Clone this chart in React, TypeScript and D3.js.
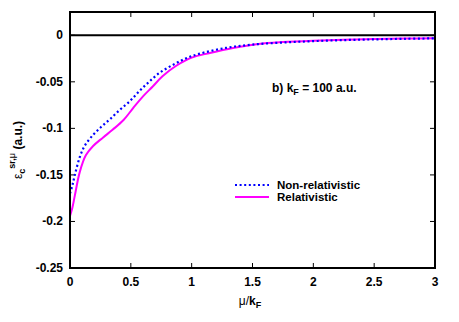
import React from 'react';
import * as d3 from 'd3';

// mu / k_F grid and correlation energies
const xNonRel = [0, 0.02, 0.04, 0.08, 0.12, 0.19, 0.26, 0.33, 0.41, 0.49, 0.57, 0.65, 0.74, 0.85, 0.95, 1.06, 1.28, 1.5, 1.75, 2.0, 2.25, 2.5, 2.75, 3.0];
const yNonRel = [-0.170, -0.161, -0.150, -0.131, -0.119, -0.107, -0.098, -0.090, -0.080, -0.071, -0.060, -0.050, -0.040, -0.0315, -0.025, -0.020, -0.0136, -0.010, -0.0078, -0.0063, -0.0052, -0.0044, -0.0038, -0.0033];

const xRel = [0, 0.02, 0.04, 0.08, 0.13, 0.19, 0.27, 0.35, 0.44, 0.52, 0.60, 0.68, 0.76, 0.87, 1.0, 1.15, 1.34, 1.55, 1.75, 2.0, 2.25, 2.5, 2.75, 3.0];
const yRel = [-0.194, -0.185, -0.172, -0.147, -0.129, -0.119, -0.110, -0.1015, -0.091, -0.078, -0.0656, -0.055, -0.044, -0.033, -0.024, -0.019, -0.0136, -0.0093, -0.0073, -0.0058, -0.0048, -0.0041, -0.0036, -0.0031];

const xTicks = [0, 0.5, 1, 1.5, 2, 2.5, 3];
const xTickLabels = ['0', '0.5', '1', '1.5', '2', '2.5', '3'];
const yTicks = [0, -0.05, -0.1, -0.15, -0.2, -0.25];
const yTickLabels = ['0', '-0.05', '-0.1', '-0.15', '-0.2', '-0.25'];

const seriesNames = ['Non-relativistic', 'Relativistic'];
const seriesColors = ['#0000ff', '#ff00ff'];

const W = 459;
const H = 322;
const margin = { left: 70, right: 24, top: 12, bottom: 54 };

const App: React.FC = () => {
  const x = d3.scaleLinear().domain([0, 3]).range([margin.left, W - margin.right]);
  const y = d3.scaleLinear().domain([-0.25, 0.025]).range([H - margin.bottom, margin.top]);

  const line = d3.line<[number, number]>()
    .x(d => x(d[0]))
    .y(d => y(d[1]))
    .curve(d3.curveCatmullRom.alpha(0.5));

  const nonRel = line(xNonRel.map((v, i) => [v, yNonRel[i]] as [number, number])) || '';
  const rel = line(xRel.map((v, i) => [v, yRel[i]] as [number, number])) || '';

  const font = '"Liberation Sans", Arial, sans-serif';
  const tickLen = 5;

  return (
    <svg width={W} height={H} style={{ position: 'absolute', left: 0, top: 0, background: '#fff' }}
      fontFamily={font} fontWeight="bold" fontSize={12}>
      <defs>
        <clipPath id="plot">
          <rect x={x(0)} y={y(0.025)} width={x(3) - x(0)} height={y(-0.25) - y(0.025)} />
        </clipPath>
      </defs>

      {/* zero line */}
      <line x1={x(0)} x2={x(3)} y1={y(0)} y2={y(0)} stroke="#000" strokeWidth={2} />

      {/* ticks, mirrored on all sides */}
      {xTicks.map(t => (
        <g key={'xt' + t}>
          <line x1={x(t)} x2={x(t)} y1={y(-0.25)} y2={y(-0.25) - tickLen} stroke="#000" strokeWidth={1} />
          <line x1={x(t)} x2={x(t)} y1={y(0.025)} y2={y(0.025) + tickLen} stroke="#000" strokeWidth={1} />
        </g>
      ))}
      {yTicks.map(t => (
        <g key={'yt' + t}>
          <line x1={x(0)} x2={x(0) + tickLen} y1={y(t)} y2={y(t)} stroke="#000" strokeWidth={1} />
          <line x1={x(3)} x2={x(3) - tickLen} y1={y(t)} y2={y(t)} stroke="#000" strokeWidth={1} />
        </g>
      ))}

      {/* curves */}
      <g clipPath="url(#plot)">
        <path d={rel} fill="none" stroke={seriesColors[1]} strokeWidth={2} />
        <path d={nonRel} fill="none" stroke={seriesColors[0]} strokeWidth={2.2} strokeDasharray="2,2.6" />
      </g>

      {/* frame */}
      <rect x={x(0)} y={y(0.025)} width={x(3) - x(0)} height={y(-0.25) - y(0.025)} fill="none" stroke="#000" strokeWidth={2} />

      {/* tick labels */}
      {xTicks.map((t, i) => (
        <text key={'xl' + t} x={x(t)} y={286} textAnchor="middle">{xTickLabels[i]}</text>
      ))}
      {yTicks.map((t, i) => (
        <text key={'yl' + t} x={63} y={y(t) + 4} textAnchor="end">{yTickLabels[i]}</text>
      ))}

      {/* axis titles */}
      <text x={250} y={305} textAnchor="middle" fontWeight="normal" fontSize={12}>
        μ/<tspan fontWeight="bold">k</tspan><tspan fontWeight="bold" fontSize={9} dy={3}>F</tspan>
      </text>
      <g transform="translate(22,150) rotate(-90)">
        <text x={0} y={0} textAnchor="middle" fontSize={12}>
          <tspan fontWeight="normal">ε</tspan>
          <tspan fontSize={9} dy={3}>c</tspan>
          <tspan fontSize={9} dy={-10}>sr,</tspan>
          <tspan fontSize={9} fontWeight="normal">μ</tspan>
          <tspan dy={7}> (a.u.)</tspan>
        </text>
      </g>

      {/* annotation */}
      <text x={272} y={92}>
        b) k<tspan fontSize={9} dy={3}>F</tspan><tspan dy={-3}> = 100 a.u.</tspan>
      </text>

      {/* legend */}
      <g fontSize={11.5}>
        <line x1={235} x2={269} y1={185} y2={185} stroke={seriesColors[0]} strokeWidth={2.2} strokeDasharray="2,2.6" />
        <text x={277} y={188.5}>{seriesNames[0]}</text>
        <line x1={235} x2={269} y1={197} y2={197} stroke={seriesColors[1]} strokeWidth={2} />
        <text x={277} y={201}>{seriesNames[1]}</text>
      </g>
    </svg>
  );
};

export default App;
